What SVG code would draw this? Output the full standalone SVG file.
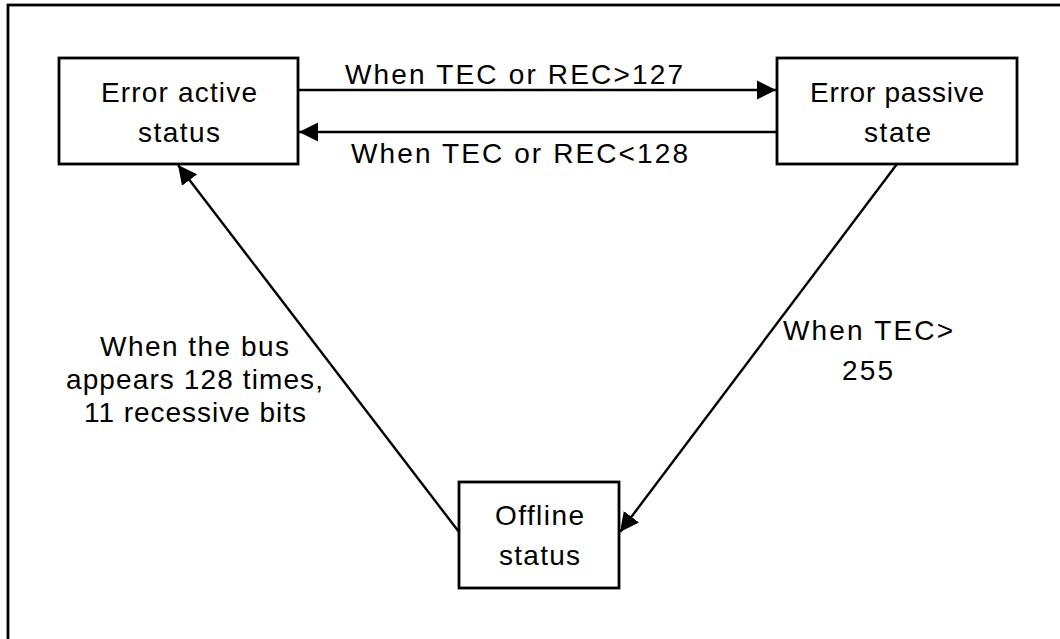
<svg xmlns="http://www.w3.org/2000/svg" width="1060" height="639" viewBox="0 0 1060 639">
<style>
.box{fill:#fff;stroke:#000;stroke-width:2.8}
.t{font-family:"Liberation Sans",Arial,sans-serif;font-size:28px;fill:#000;text-anchor:middle}
.c{fill:none;stroke:#000;stroke-width:2.4}
</style>
<defs>
<marker id="ah" markerUnits="userSpaceOnUse" markerWidth="20" markerHeight="20" viewBox="0 0 20 20" refX="19" refY="10" orient="auto">
<path d="M0,0.5 L19,10 L0,19.5 Z" fill="#000"/>
</marker>
</defs>
<rect width="1060" height="639" fill="#fff"/>
<rect x="8" y="5" width="1070" height="650" fill="none" stroke="#000" stroke-width="2.8"/>
<g id="connectors">
<line class="c" x1="298" y1="90" x2="776" y2="90" marker-end="url(#ah)"/>
<line class="c" x1="777" y1="132" x2="299" y2="132" marker-end="url(#ah)"/>
<line class="c" x1="459" y1="532" x2="178" y2="165" marker-end="url(#ah)"/>
<line class="c" x1="897" y1="164" x2="620" y2="532" marker-end="url(#ah)"/>
<text class="t" x="514" y="84" textLength="338" lengthAdjust="spacing">When TEC or REC&gt;127</text>
<text class="t" x="519.5" y="163" textLength="337" lengthAdjust="spacing">When TEC or REC&lt;128</text>
<text class="t" x="194.5" y="356" textLength="189" lengthAdjust="spacing">When the bus</text>
<text class="t" x="194.5" y="389" textLength="257" lengthAdjust="spacing">appears 128 times,</text>
<text class="t" x="195" y="422" textLength="222" lengthAdjust="spacing">11 recessive bits</text>
<text class="t" x="868" y="340" textLength="170" lengthAdjust="spacing">When TEC&gt;</text>
<text class="t" x="867.5" y="380" textLength="51" lengthAdjust="spacing">255</text>
</g>
<g id="error-active">
<rect class="box" x="59" y="58" width="239" height="106"/>
<text class="t" x="179" y="102" textLength="156" lengthAdjust="spacing">Error active</text>
<text class="t" x="179" y="142" textLength="82" lengthAdjust="spacing">status</text>
</g>
<g id="error-passive">
<rect class="box" x="777" y="58" width="240" height="106"/>
<text class="t" x="897" y="102" textLength="174" lengthAdjust="spacing">Error passive</text>
<text class="t" x="897.5" y="142" textLength="67" lengthAdjust="spacing">state</text>
</g>
<g id="offline">
<rect class="box" x="459" y="482" width="160" height="106"/>
<text class="t" x="539.5" y="525" textLength="89" lengthAdjust="spacing">Offline</text>
<text class="t" x="539.5" y="565" textLength="81" lengthAdjust="spacing">status</text>
</g>
</svg>
